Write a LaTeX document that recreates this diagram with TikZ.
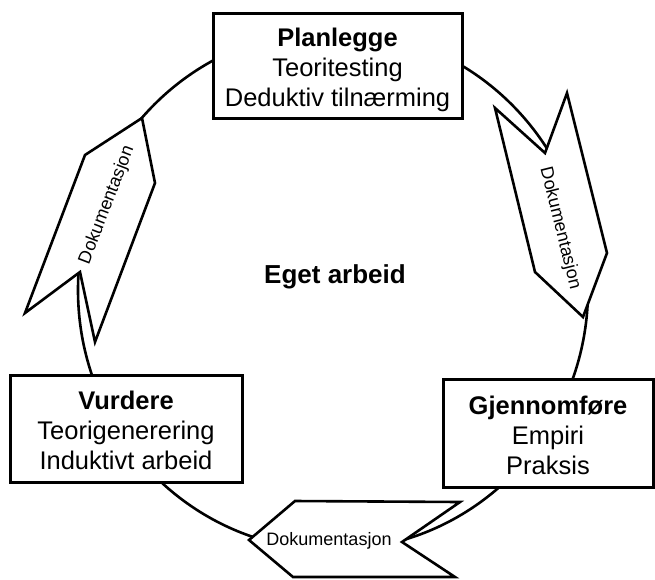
\documentclass[tikz,border=0pt]{standalone}
\usepackage{fontspec}
\setmainfont{Liberation Sans}
\begin{document}
\begin{tikzpicture}[x=1pt,y=-1pt,
  stage/.style={draw, line width=3pt, fill=white, inner sep=0pt},
  stagetext/.style={align=center, inner sep=0pt, font=\fontsize{25.5}{30}\selectfont},
  chevron/.style={draw, line width=2.6pt, fill=white, line join=miter},
  doclabel/.style={font=\fontsize{18}{20}\selectfont, inner sep=0pt},
  cycleline/.style={line width=2.6pt}]
\useasboundingbox (0,0) rectangle (655,579);

% the work cycle
\draw[cycleline] (333,290) ellipse [x radius=255, y radius=260];

% documentation arrows along the cycle
\draw[chevron] (142,118) -- (155,183) -- (95,342) -- (80,272) -- (25,313) -- (85,155) -- cycle;
\node[doclabel, rotate=69] (docleft) at (107,205) {Dokumentasjon};

\draw[chevron] (495,108) -- (545,153) -- (567,93) -- (607,253) -- (583,317) -- (535,272) -- cycle;
\node[doclabel, rotate=-76] (docright) at (560,228) {Dokumentasjon};

\draw[chevron] (249,540) -- (295,501) -- (460,502) -- (402,542) -- (455,577) -- (293,577) -- cycle;
\node[doclabel] (docbottom) at (329,541) {Dokumentasjon};

% stages
\node[stage, minimum width=249pt, minimum height=105pt] (plan) at (337.5,65.5) {};
\node[stagetext] (plantext) at ([yshift=-4pt]plan.center)
  {\textbf{Planlegge}\\Teoritesting\\Deduktiv tilnærming};

\node[stage, minimum width=210pt, minimum height=108pt] (gjen) at (548,433) {};
\node[stagetext] (gjentext) at ([yshift=-2pt]gjen.center)
  {\textbf{Gjennomføre}\\Empiri\\Praksis};

\node[stage, minimum width=232pt, minimum height=107pt] (vurd) at (126,428.5) {};
\node[stagetext] (vurdtext) at ([yshift=-2pt]vurd.center)
  {\textbf{Vurdere}\\Teorigenerering\\Induktivt arbeid};

\node[font=\fontsize{26}{30}\selectfont\bfseries] (center) at (335,277) {Eget arbeid};
\end{tikzpicture}
\end{document}
